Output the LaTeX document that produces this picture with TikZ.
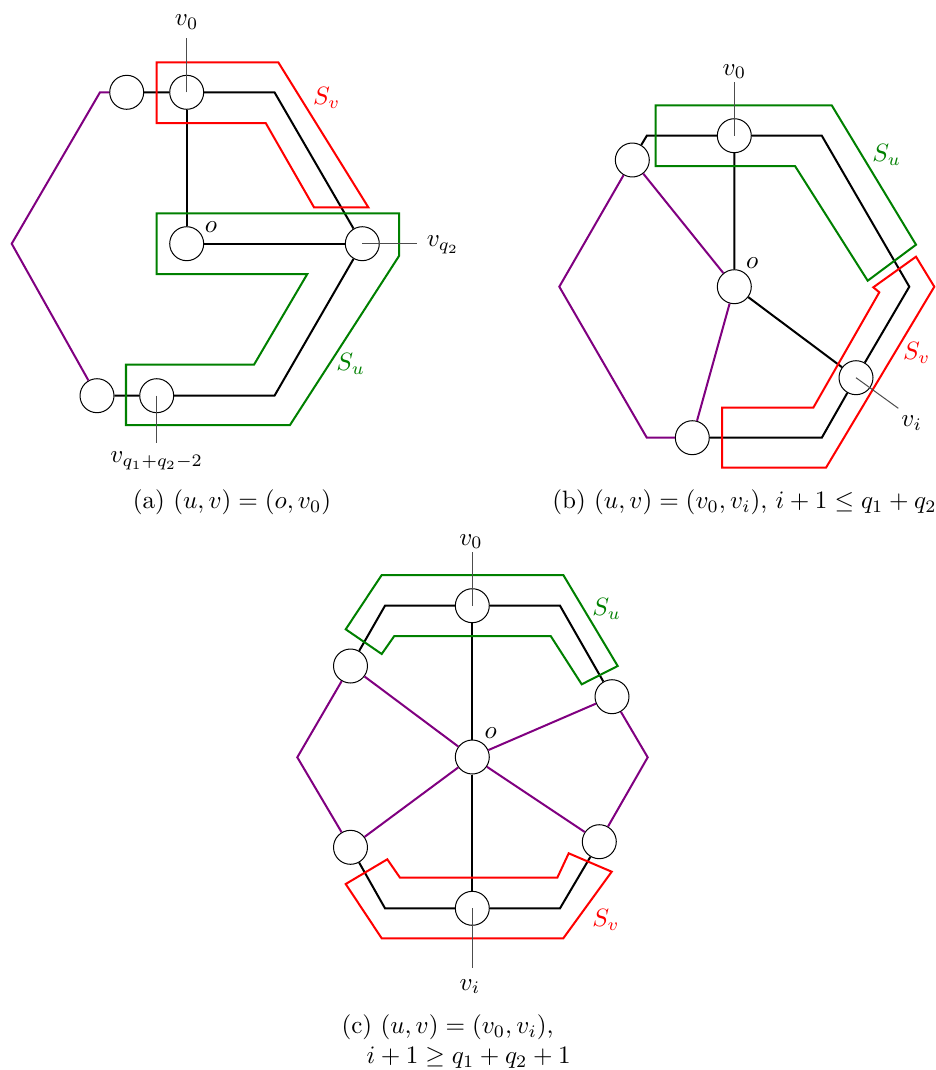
\documentclass[tikz,border=0pt]{standalone}
\definecolor{hexpurple}{RGB}{128,0,128}
\definecolor{setgreen}{RGB}{0,128,0}
\begin{document}
\begin{tikzpicture}[x=0.014cm, y=-0.014cm,
    vtx/.style={circle, draw, fill=white, minimum size=0.476cm, inner sep=0pt, line width=0.4pt},
    blk/.style={line width=0.8pt},
    prp/.style={hexpurple, line width=0.8pt},
    pinline/.style={black!70, line width=0.4pt},
    setu/.style={setgreen, line width=0.8pt},
    setv/.style={red, line width=0.8pt},
    lbl/.style={inner sep=0pt}]
\useasboundingbox (0,0) rectangle (935,1070);

% (a)
\coordinate (a-h1) at (100,92.3);
\coordinate (a-h2) at (274.5,92.3);
\coordinate (a-h4) at (274.5,395.7);
\coordinate (a-h6) at (11.7,243.7);
\node[vtx] (a-v0) at (186.7,92.3) {};
\node[vtx] (a-t) at (126.7,92.3) {};
\node[vtx] (a-o) at (186.7,243.7) {};
\node[vtx] (a-q) at (362.3,243.7) {};
\node[vtx] (a-b) at (156.7,395.7) {};
\node[vtx] (a-bl) at (97,395.7) {};
\draw[blk] (a-t)--(a-v0)--(a-h2)--(a-q)--(a-h4)--(a-b)--(a-bl);
\draw[blk] (a-v0)--(a-o)--(a-q);
\draw[prp] (a-t)--(a-h1)--(a-h6)--(a-bl);
\draw[setv] (156.7,62.3)--(278.3,62.3)--(368.3,207.3)--(314,207.3)--(265.7,123)--(156.7,123)--cycle;
\draw[setu] (156.7,213.3)--(399,213.3)--(399,256)--(290,425)--(126,425)--(126,364.7)--(254,364.7)--(307.3,274)--(156.7,274)--cycle;
\coordinate (a-v0-pin) at (186.7,38);
\coordinate (a-q-pin) at (416.7,243.7);
\coordinate (a-b-pin) at (156.7,443.3);
\draw[pinline] (a-v0.center)--(a-v0-pin);
\draw[pinline] (a-q.center)--(a-q-pin);
\draw[pinline] (a-b.center)--(a-b-pin);
\node[lbl] (a-v0-lbl) at (186.7,22) {$v_0$};
\node[lbl] (a-q-lbl) at (443,245) {$v_{q_2}$};
\node[lbl] (a-b-lbl) at (156.7,461) {$v_{q_1+q_2-2}$};
\node[lbl] (a-o-lbl) at (211,226.7) {$o$};
\node[lbl, red] (a-sv) at (326.7,98) {$S_v$};
\node[lbl, setgreen] (a-su) at (350.7,364) {$S_u$};
\node[lbl] (a-cap) at (232,502) {(a)~$(u,v)=(o,v_0)$};

% (b)
\coordinate (b-h1) at (646.8,135.7);
\coordinate (b-h2) at (821.8,135.7);
\coordinate (b-h3) at (909.3,286.7);
\coordinate (b-h4) at (821.8,437.7);
\coordinate (b-h5) at (646.8,437.7);
\coordinate (b-h6) at (559.3,286.7);
\node[vtx] (b-v0) at (734.3,135.7) {};
\node[vtx] (b-t) at (632.3,160) {};
\node[vtx] (b-o) at (734.3,286.7) {};
\node[vtx] (b-i) at (856,377.7) {};
\node[vtx] (b-b) at (692.3,437.7) {};
\draw[blk] (b-t)--(b-h1)--(b-v0)--(b-h2)--(b-h3)--(b-i)--(b-h4)--(b-b);
\draw[blk] (b-v0)--(b-o)--(b-i);
\draw[prp] (b-t)--(b-h6)--(b-h5)--(b-b);
\draw[prp] (b-t)--(b-o)--(b-b);
\draw[setu] (655.7,105.3)--(831.7,105.3)--(916,244.7)--(867.7,280.7)--(795,166)--(655.7,166)--cycle;
\draw[setv] (916,256.7)--(934.3,286.7)--(826,467.7)--(722,467.7)--(722,407.7)--(813.3,407.7)--(879.3,292.3)--(873.3,287.3)--cycle;
\coordinate (b-v0-pin) at (734.3,81.7);
\coordinate (b-i-pin) at (898.3,408.3);
\draw[pinline] (b-v0.center)--(b-v0-pin);
\draw[pinline] (b-i.center)--(b-i-pin);
\node[lbl] (b-v0-lbl) at (734.3,71.7) {$v_0$};
\node[lbl] (b-i-lbl) at (911.7,423.3) {$v_i$};
\node[lbl] (b-o-lbl) at (752.3,263.3) {$o$};
\node[lbl, setgreen] (b-su) at (886.7,155) {$S_u$};
\node[lbl, red] (b-sv) at (916.7,353.3) {$S_v$};
\node[lbl] (b-cap) at (744.5,502) {(b)~$(u,v)=(v_0,v_i)$, $i+1\leq q_1+q_2$};

% (c)
\coordinate (c-h1) at (385,605.7);
\coordinate (c-h2) at (560,605.7);
\coordinate (c-h3) at (647.7,757.3);
\coordinate (c-h4) at (560,908.3);
\coordinate (c-h5) at (385,908.3);
\coordinate (c-h6) at (297.3,757.3);
\node[vtx] (c-v0) at (472.3,605.7) {};
\node[vtx] (c-o) at (472.3,757) {};
\node[vtx] (c-i) at (472.3,908.3) {};
\node[vtx] (c-tl) at (350.5,666) {};
\node[vtx] (c-tr) at (612,696.7) {};
\node[vtx] (c-bl) at (350.5,847.3) {};
\node[vtx] (c-br) at (599.3,841.7) {};
\draw[blk] (c-tl)--(c-h1)--(c-v0)--(c-h2)--(c-tr);
\draw[blk] (c-br)--(c-h4)--(c-i)--(c-h5)--(c-bl);
\draw[blk] (c-v0)--(c-o)--(c-i);
\draw[prp] (c-tr)--(c-h3)--(c-br);
\draw[prp] (c-bl)--(c-h6)--(c-tl);
\foreach \n in {tl,tr,bl,br}
{
    \draw[prp] (c-o)--(c-\n);
}
\draw[setu] (381.7,575)--(563.3,575)--(617.7,666)--(581.7,684.3)--(550.7,636)--(394.3,636)--(381.7,654)--(345.7,629.3)--cycle;
\draw[setv] (345.7,884)--(387.3,859.3)--(400,877.7)--(557.3,877.7)--(568.7,853.3)--(611.7,871.7)--(563.3,938.3)--(381.7,938.3)--cycle;
\coordinate (c-v0-pin) at (472.3,551.7);
\coordinate (c-i-pin) at (472.3,968.3);
\draw[pinline] (c-v0.center)--(c-v0-pin);
\draw[pinline] (c-i.center)--(c-i-pin);
\node[lbl] (c-v0-lbl) at (471,541.7) {$v_0$};
\node[lbl] (c-i-lbl) at (470,986.7) {$v_i$};
\node[lbl] (c-o-lbl) at (490.7,733.3) {$o$};
\node[lbl, setgreen] (c-su) at (606.7,609) {$S_u$};
\node[lbl, red] (c-sv) at (606,920) {$S_v$};
\node[lbl, anchor=north west, align=left] (c-cap) at (341,1014) {(c)~$(u,v)=(v_0,v_i)$,\\\hspace*{10pt}$i+1\geq q_1+q_2+1$};
\end{tikzpicture}
\end{document}
